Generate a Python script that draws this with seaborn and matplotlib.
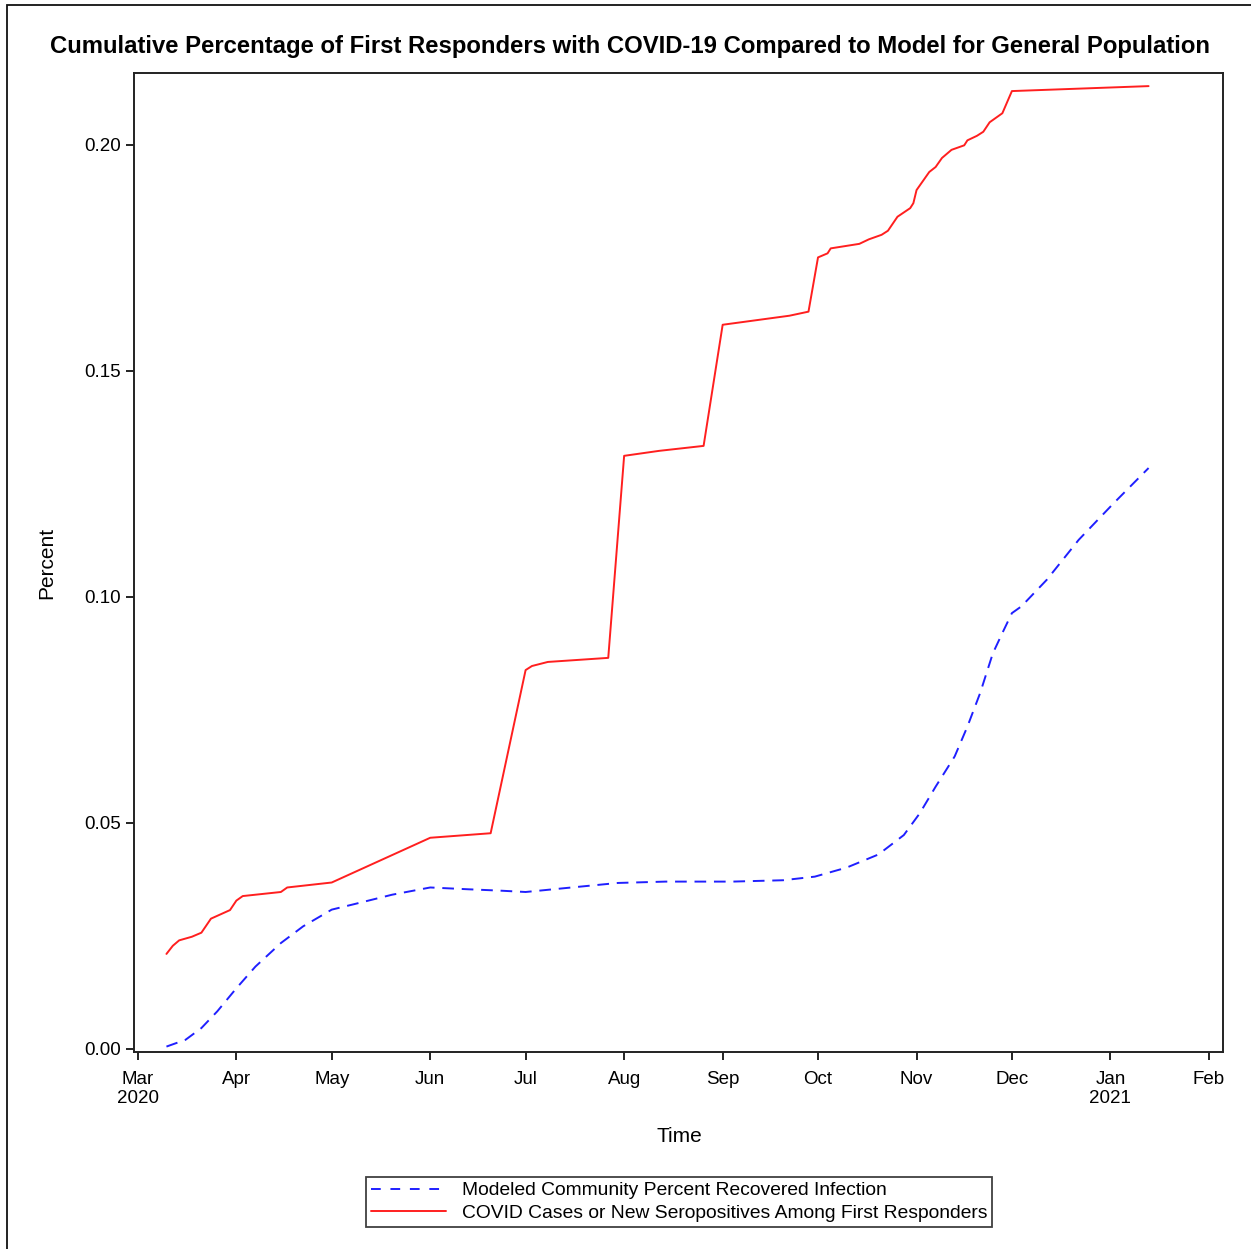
import matplotlib
matplotlib.use("Agg")
import matplotlib.pyplot as plt
from matplotlib.lines import Line2D
from matplotlib.patches import Rectangle
import seaborn as sns
import pandas as pd

sns.set_theme(style="white")
plt.rcParams['font.family'] = ['Liberation Sans', 'DejaVu Sans']
plt.rcParams.update({"text.color": "black", "axes.labelcolor": "black",
                     "xtick.color": "black", "ytick.color": "black"})

# ---- data ----
responder_dates = ["2020-03-10", "2020-03-12", "2020-03-14", "2020-03-18", "2020-03-21",
                   "2020-03-24", "2020-03-30", "2020-04-01", "2020-04-03", "2020-04-15",
                   "2020-04-17", "2020-05-01", "2020-06-01", "2020-06-20", "2020-07-01",
                   "2020-07-03", "2020-07-08", "2020-07-27", "2020-08-01", "2020-08-12",
                   "2020-08-26", "2020-09-01", "2020-09-22", "2020-09-28", "2020-10-01",
                   "2020-10-04", "2020-10-05", "2020-10-14", "2020-10-17", "2020-10-21",
                   "2020-10-23", "2020-10-26", "2020-10-30", "2020-10-31", "2020-11-01",
                   "2020-11-05", "2020-11-07", "2020-11-09", "2020-11-12", "2020-11-16",
                   "2020-11-17", "2020-11-20", "2020-11-22", "2020-11-24", "2020-11-28",
                   "2020-12-01", "2021-01-13"]
responder_pct = [0.0210, 0.0228, 0.0240, 0.0248, 0.0257,
                 0.0288, 0.0307, 0.0328, 0.0338, 0.0347,
                 0.0357, 0.0368, 0.0467, 0.0477, 0.0838,
                 0.0847, 0.0856, 0.0865, 0.1312, 0.1323,
                 0.1334, 0.1602, 0.1622, 0.1631, 0.1751,
                 0.1760, 0.1771, 0.1781, 0.1791, 0.1801,
                 0.1810, 0.1841, 0.1860, 0.1871, 0.1900,
                 0.1940, 0.1951, 0.1971, 0.1989, 0.1999,
                 0.2010, 0.2020, 0.2029, 0.2050, 0.2070,
                 0.2119, 0.2130]

model_dates = ["2020-03-10", "2020-03-16", "2020-03-21", "2020-03-26", "2020-04-01",
               "2020-04-07", "2020-04-15", "2020-04-22", "2020-05-01", "2020-05-08",
               "2020-05-20", "2020-06-01", "2020-06-13", "2020-06-23", "2020-07-01",
               "2020-07-14", "2020-07-30", "2020-08-14", "2020-09-04", "2020-09-20",
               "2020-09-30", "2020-10-10", "2020-10-20", "2020-10-28", "2020-11-02",
               "2020-11-07", "2020-11-13", "2020-11-17", "2020-11-21", "2020-11-25",
               "2020-11-28", "2020-12-01", "2020-12-04", "2020-12-12", "2020-12-22",
               "2021-01-02", "2021-01-13"]
model_pct = [0.0005, 0.0020, 0.0046, 0.0083, 0.0134,
             0.0182, 0.0234, 0.0271, 0.0308, 0.0320,
             0.0341, 0.0357, 0.0353, 0.0350, 0.0347,
             0.0356, 0.0367, 0.0370, 0.0370, 0.0373,
             0.0381, 0.0401, 0.0430, 0.0473, 0.0521,
             0.0580, 0.0647, 0.0713, 0.0787, 0.0875,
             0.0920, 0.0964, 0.0979, 0.1038, 0.1126,
             0.1207, 0.1285]

tick_months = ["2020-03-01", "2020-04-01", "2020-05-01", "2020-06-01", "2020-07-01",
               "2020-08-01", "2020-09-01", "2020-10-01", "2020-11-01", "2020-12-01",
               "2021-01-01", "2021-02-01"]
tick_labels = ["Mar\n2020", "Apr", "May", "Jun", "Jul", "Aug", "Sep", "Oct", "Nov",
               "Dec", "Jan\n2021", "Feb"]
y_ticks = [0.00, 0.05, 0.10, 0.15, 0.20]

label_model = "Modeled Community Percent Recovered Infection"
label_resp = "COVID Cases or New Seropositives Among First Responders"
title = "Cumulative Percentage of First Responders with COVID-19 Compared to Model for General Population"

df_resp = pd.DataFrame({"date": pd.to_datetime(responder_dates), "pct": responder_pct})
df_model = pd.DataFrame({"date": pd.to_datetime(model_dates), "pct": model_pct})

# ---- figure ----
W, H = 1251, 1249
fig = plt.figure(figsize=(W / 100, H / 100), dpi=100)
ax = fig.add_axes([134 / W, 1 - 1052 / H, (1223 - 134) / W, (1052 - 73) / H])

lw = 1.4
blue, red = "#1f1fff", "#ff1f1f"
dash = (0, (6.0, 4.0))
sns.lineplot(data=df_model, x="date", y="pct", ax=ax, color=blue, linewidth=lw,
             estimator=None, sort=False, linestyle=dash)
sns.lineplot(data=df_resp, x="date", y="pct", ax=ax, color=red, linewidth=lw,
             estimator=None, sort=False)

ax.set_xlim(pd.Timestamp("2020-02-28 19:00"), pd.Timestamp("2021-02-05 10:00"))
ax.set_ylim(-0.0007, 0.2159)

ax.set_xticks(pd.to_datetime(tick_months))
ax.set_xticklabels(tick_labels, fontsize=13.5, linespacing=1.12)
ax.set_yticks(y_ticks)
ax.set_yticklabels([f"{v:.2f}" for v in y_ticks], fontsize=13.5)

ax.tick_params(axis="both", which="both", direction="out", length=6, width=1.4,
               color="#222222", labelcolor="black",
               bottom=True, left=True, top=False, right=False)
ax.tick_params(axis="x", pad=8)
ax.tick_params(axis="y", pad=3.5)
for sp in ax.spines.values():
    sp.set_visible(True)
    sp.set_color("#222222")
    sp.set_linewidth(1.4)

ax.set_xlabel("")
ax.set_ylabel("")
ax.grid(False)

fig.text(47 / W, 1 - 563 / H, "Percent", rotation=90, ha="center", va="center",
         fontsize=15, color="black")
fig.text(679 / W, 1 - 1137 / H, "Time", ha="center", va="center", fontsize=15, color="black")
fig.text(630 / W, 1 - 46 / H, title, ha="center", va="center", fontsize=17.2,
         fontweight="bold", color="black")

handles = [Line2D([], [], color=blue, linewidth=lw, linestyle=(0, (5.0, 5.0))),
           Line2D([], [], color=red, linewidth=lw)]
leg = fig.legend(handles, [label_model, label_resp], loc="upper center",
                 bbox_to_anchor=(679 / W, 1 - 1177 / H), fontsize=13.9,
                 frameon=True, fancybox=False, edgecolor="#111111",
                 handlelength=3.9, handletextpad=0.83, labelspacing=0.26,
                 borderpad=0.25, borderaxespad=0)
leg.get_frame().set_linewidth(1.3)
for t in leg.get_texts():
    t.set_color("black")

# outer border (left and top edges visible)
fig.patches.append(Rectangle((6.5 / W, -0.1), 1.2, 1 - 4.5 / H + 0.1,
                             transform=fig.transFigure, fill=False,
                             edgecolor="#111111", linewidth=1.3))

fig.savefig("out.png", dpi=100)
